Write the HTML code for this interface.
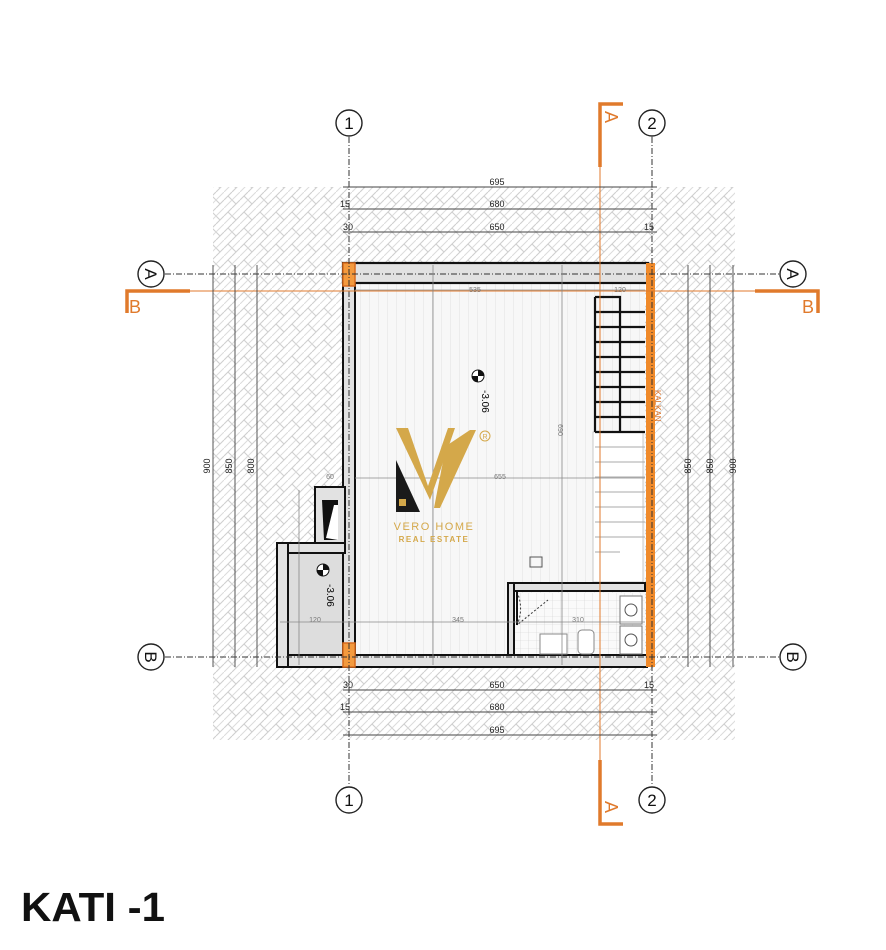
<!DOCTYPE html>
<html><head><meta charset="utf-8"><style>
html,body{margin:0;padding:0;background:#fff;}
svg{display:block;font-family:"Liberation Sans",sans-serif;}
</style></head><body>
<svg width="886" height="950" viewBox="0 0 886 950" xmlns="http://www.w3.org/2000/svg">
<defs>
<pattern id="h" width="16" height="16" patternUnits="userSpaceOnUse">
<path d="M0 8 L8 0 M8 16 L16 8 M4 4 L12 12 M-4 12 L4 20 M12 -4 L20 4" stroke="#cfcfcf" stroke-width="1.1" fill="none"/>
<path d="M0 16 L16 0" stroke="#dcdcdc" stroke-width="1"/>
</pattern>
<pattern id="fl" width="9" height="10" patternUnits="userSpaceOnUse">
<rect width="9" height="10" fill="#f7f7f7"/><line x1="0" y1="0" x2="0" y2="10" stroke="#e2e2e2"/>
</pattern>
<pattern id="tile" width="8" height="8" patternUnits="userSpaceOnUse">
<rect width="8" height="8" fill="#fafafa"/><path d="M0 0H8M0 0V8" stroke="#d0d0d0" stroke-width=".6"/>
</pattern>
</defs>
<rect x="213" y="187" width="522" height="553" fill="url(#h)"/>
<rect x="355" y="283" width="290" height="372" fill="url(#fl)"/>
<rect x="288" y="553" width="57" height="102" fill="#ddd"/>
<rect x="512" y="593" width="133" height="62" fill="url(#tile)"/>
<rect x="593" y="432" width="50" height="150" fill="#fff" stroke="#bbb" stroke-width=".8"/>
<rect x="343" y="263" width="305" height="20" fill="#e2e2e2" stroke="#111" stroke-width="2.2"/>
<rect x="343" y="283" width="12" height="372" fill="#e2e2e2" stroke="#111" stroke-width="2"/>
<rect x="277" y="655" width="370" height="12" fill="#e2e2e2" stroke="#111" stroke-width="2"/>
<rect x="277" y="543" width="11" height="124" fill="#e2e2e2" stroke="#111" stroke-width="2"/>
<rect x="288" y="543" width="57" height="10" fill="#e2e2e2" stroke="#111" stroke-width="2"/>
<rect x="315" y="487" width="30" height="56" fill="#e2e2e2" stroke="#111" stroke-width="2"/>
<path d="M322 500 H338 V540 H324 Z" fill="#111"/>
<path d="M326 538 L334 505 H338 V540 Z" fill="#fff"/>
<rect x="508" y="583" width="137" height="8" fill="#e2e2e2" stroke="#111" stroke-width="2"/>
<rect x="508" y="583" width="6" height="72" fill="#e2e2e2" stroke="#111" stroke-width="2"/>
<path d="M517 592 A40 40 0 0 1 517 625 L548 600" fill="none" stroke="#333" stroke-dasharray="2 2"/>
<line x1="517" y1="592" x2="517" y2="625" stroke="#111" stroke-width="2"/>
<rect x="620" y="596" width="22" height="28" fill="#fff" stroke="#777"/>
<rect x="620" y="626" width="22" height="28" fill="#fff" stroke="#777"/>
<circle cx="631" cy="610" r="6" fill="none" stroke="#555"/><circle cx="631" cy="640" r="6" fill="none" stroke="#555"/>
<rect x="540" y="634" width="27" height="20" fill="#fff" stroke="#888"/>
<rect x="578" y="630" width="16" height="24" rx="4" fill="#fff" stroke="#888"/>
<rect x="530" y="557" width="12" height="10" fill="none" stroke="#555"/>
<g stroke="#111" stroke-width="2.2" fill="none">
<path d="M595 297 V432 M595 297 H620 V432 M595 432 H645"/>
<path d="M595 312 H645 M595 327 H645 M595 342 H645 M595 357 H645 M595 372 H645 M595 387 H645 M595 402 H645 M595 417 H645"/>
</g>
<g stroke="#aaa" stroke-width="1"><path d="M595 447 H645 M595 462 H645 M595 477 H645 M595 492 H645 M595 507 H645 M595 522 H645 M595 537 H645 M595 552 H620"/></g>
<text x="655" y="390" font-size="8" fill="#d86b1e" transform="rotate(90 655 390)">KALKAN</text>
<rect x="343" y="263" width="12" height="23" fill="#f39a3e" stroke="#d86b1e" stroke-width="1.5"/>
<rect x="343" y="643" width="12" height="24" fill="#f39a3e" stroke="#d86b1e" stroke-width="1.5"/>
<rect x="646" y="263" width="9" height="404" fill="#f08a2a"/>
<g stroke="#333" stroke-width="1" stroke-dasharray="6 2 1 2">
<line x1="349" y1="137" x2="349" y2="786"/><line x1="652" y1="137" x2="652" y2="786"/>
<line x1="165" y1="274" x2="779" y2="274"/><line x1="165" y1="657" x2="779" y2="657"/>
</g>
<g fill="#fff" stroke="#222" stroke-width="1.4">
<circle cx="349" cy="123" r="13"/><circle cx="652" cy="123" r="13"/>
<circle cx="349" cy="800" r="13"/><circle cx="652" cy="800" r="13"/>
<circle cx="151" cy="274" r="13"/><circle cx="793" cy="274" r="13"/>
<circle cx="151" cy="657" r="13"/><circle cx="793" cy="657" r="13"/>
</g>
<g font-size="17" text-anchor="middle" fill="#111">
<text x="349" y="129">1</text><text x="652" y="129">2</text><text x="349" y="806">1</text><text x="652" y="806">2</text>
<text x="151" y="280" transform="rotate(90 151 274)">A</text><text x="793" y="280" transform="rotate(90 793 274)">A</text>
<text x="151" y="663" transform="rotate(90 151 657)">B</text><text x="793" y="663" transform="rotate(90 793 657)">B</text>
</g>
<g stroke="#e07a2c" fill="none">
<line x1="600" y1="103" x2="600" y2="825" stroke-width="1"/>
<line x1="127" y1="291" x2="818" y2="291" stroke-width="1"/>
<path d="M623 104 H600 V167 M600 760 V824 H623 M127 313 V291 H190 M755 291 H818 V313" stroke-width="3.5"/>
</g>
<g fill="#e07a2c" font-size="18" text-anchor="middle">
<text x="611" y="123" transform="rotate(90 611 117)">A</text>
<text x="611" y="813" transform="rotate(90 611 807)">A</text>
<text x="135" y="313">B</text><text x="808" y="313">B</text>
</g>
<g stroke="#444" stroke-width=".9">
<line x1="343" y1="187" x2="657" y2="187"/><line x1="343" y1="209" x2="657" y2="209"/><line x1="343" y1="232" x2="657" y2="232"/>
<line x1="343" y1="690" x2="657" y2="690"/><line x1="343" y1="712" x2="657" y2="712"/><line x1="343" y1="735" x2="657" y2="735"/>
<line x1="213" y1="265" x2="213" y2="667"/><line x1="235" y1="265" x2="235" y2="667"/><line x1="257" y1="265" x2="257" y2="667"/>
<line x1="688" y1="265" x2="688" y2="667"/><line x1="710" y1="265" x2="710" y2="667"/><line x1="733" y1="265" x2="733" y2="667"/>
</g>
<g stroke="#888" stroke-width=".8">
<line x1="355" y1="290" x2="645" y2="290"/><line x1="355" y1="478" x2="645" y2="478"/><line x1="280" y1="622" x2="645" y2="622"/>
<line x1="433" y1="265" x2="433" y2="665"/><line x1="562" y1="265" x2="562" y2="665"/><line x1="299" y1="490" x2="299" y2="665"/>
</g>
<g font-size="9" fill="#222" text-anchor="middle">
<text x="497" y="185">695</text><text x="497" y="207">680</text><text x="497" y="230">650</text>
<text x="345" y="207">15</text><text x="348" y="230">30</text><text x="649" y="230">15</text>
<text x="497" y="688">650</text><text x="497" y="710">680</text><text x="497" y="733">695</text>
<text x="348" y="688">30</text><text x="345" y="710">15</text><text x="649" y="688">15</text>
<text x="210" y="466" transform="rotate(-90 210 466)">900</text>
<text x="232" y="466" transform="rotate(-90 232 466)">850</text>
<text x="254" y="466" transform="rotate(-90 254 466)">800</text>
<text x="691" y="466" transform="rotate(-90 691 466)">850</text>
<text x="713" y="466" transform="rotate(-90 713 466)">850</text>
<text x="736" y="466" transform="rotate(-90 736 466)">900</text>
</g>
<g font-size="7" fill="#777" text-anchor="middle">
<text x="475" y="292">535</text><text x="620" y="292">120</text><text x="500" y="479">655</text>
<text x="330" y="479">60</text><text x="315" y="622">120</text><text x="458" y="622">345</text><text x="578" y="622">310</text>
<text x="558" y="430" transform="rotate(90 558 430)">690</text>
</g>
<g>
<circle cx="478" cy="376" r="6" fill="#fff" stroke="#111"/><path d="M478 370 A6 6 0 0 1 484 376 H478Z M478 382 A6 6 0 0 1 472 376 H478Z" fill="#111"/>
<text x="482" y="390" font-size="10" transform="rotate(90 482 390)">-3.06</text>
<circle cx="323" cy="570" r="6" fill="#fff" stroke="#111"/><path d="M323 564 A6 6 0 0 1 329 570 H323Z M323 576 A6 6 0 0 1 317 570 H323Z" fill="#111"/>
<text x="327" y="584" font-size="10" transform="rotate(90 327 584)">-3.06</text>
</g>
<g>
<path d="M396 428 L408 428 L428 486 L448 428 L455 428 L430 500 Z" fill="#d4a84a"/>
<path d="M446 446 L470 430 L476 430 L440 508 L434 508 Z" fill="#d4a84a"/>
<path d="M396 460 L420 512 L396 512 Z" fill="#1a1a1a"/>
<rect x="399" y="499" width="7" height="7" fill="#d4a84a"/>
<circle cx="485" cy="436" r="5" fill="none" stroke="#d4a84a"/><text x="485" y="439" font-size="7" fill="#d4a84a" text-anchor="middle">R</text>
<text x="434" y="530" font-size="11" fill="#d4a84a" text-anchor="middle" letter-spacing="1.5">VERO HOME</text>
<text x="434" y="542" font-size="8" fill="#d4a84a" text-anchor="middle" letter-spacing="1.5" font-weight="bold">REAL ESTATE</text>
</g>
<text x="21" y="921" font-size="41" font-weight="bold" fill="#111" textLength="144" lengthAdjust="spacingAndGlyphs">KATI -1</text>
</svg>
</body></html>
